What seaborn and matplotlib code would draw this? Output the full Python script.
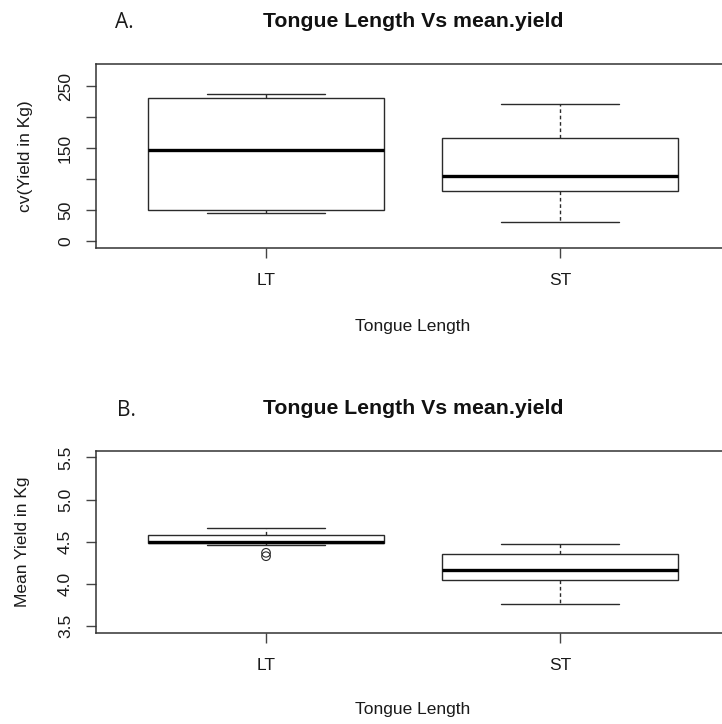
import numpy as np
import pandas as pd
import matplotlib
matplotlib.use("Agg")
import matplotlib.pyplot as plt
import seaborn as sns

# Five-number summaries per tongue-length group (whisker low, Q1, median, Q3, whisker high)
tongue_groups = ["LT", "ST"]
cv_lt = [44.8, 50.0, 147.0, 230.5, 237.0]
cv_st = [30.3, 80.8, 105.5, 166.9, 221.4]
yield_lt = [4.463, 4.487, 4.495, 4.578, 4.664]
yield_st = [3.760, 4.048, 4.167, 4.353, 4.471]
yield_lt_outliers = [4.37, 4.33]

cv_ticks = [0, 50, 100, 150, 200, 250]
cv_tick_labels = ["0", "50", "", "150", "", "250"]
yield_ticks = [3.5, 4.0, 4.5, 5.0, 5.5]
yield_tick_labels = ["3.5", "4.0", "4.5", "5.0", "5.5"]

panel_title = "Tongue Length Vs mean.yield"
x_label = "Tongue Length"
cv_label = "cv(Yield in Kg)"
yield_label = "Mean Yield in Kg"

sns.set_style("white")
plt.rcParams["font.family"] = ["Liberation Sans", "DejaVu Sans"]

LINE = "#2a2a2a"


def frame(lt, st):
    return pd.DataFrame({
        "group": np.repeat(tongue_groups, [len(lt), len(st)]),
        "value": np.concatenate([lt, st]),
    })


def draw_panel(ax, df, ylim, ticks, tick_labels, ylabel, outliers=None):
    sns.boxplot(
        data=df, x="group", y="value", order=tongue_groups, ax=ax,
        color="white", linecolor=LINE, linewidth=1.0, width=0.8,
        saturation=1, showfliers=False,
        medianprops=dict(color="black", linewidth=2.4),
        whiskerprops=dict(color=LINE, linewidth=1.0, linestyle=(0, (2.6, 2.0))),
        capprops=dict(color=LINE, linewidth=1.0),
        boxprops=dict(edgecolor=LINE, linewidth=1.0),
    )
    if outliers is not None:
        sns.stripplot(
            x=["LT"] * len(outliers), y=outliers, order=tongue_groups, ax=ax,
            jitter=False, size=6.2, color=LINE, facecolors="none",
            edgecolor=LINE, linewidth=0.8, zorder=5,
        )
    ax.set_xlim(-0.58, 1.58)
    ax.set_ylim(*ylim)
    ax.set_yticks(ticks)
    ax.set_yticklabels(tick_labels)
    ax.set_xticks(range(len(tongue_groups)))
    ax.set_xticklabels(tongue_groups)
    for s in ax.spines.values():
        s.set_visible(True)
        s.set_linewidth(1.1)
        s.set_color("#333333")
    ax.tick_params(axis="both", direction="out", length=7.2, width=1.0,
                   color="#444444", labelsize=12.5, labelcolor="#1a1a1a",
                   bottom=True, left=True, top=False, right=False)
    ax.tick_params(axis="x", pad=11)
    ax.tick_params(axis="y", pad=9, labelrotation=90)
    for lab in ax.get_yticklabels():
        lab.set_va("center")
    ax.set_xlabel(x_label, fontsize=12.5, color="#1a1a1a")
    ax.set_ylabel(ylabel, fontsize=12.5, color="#1a1a1a")
    ax.set_title(panel_title, fontsize=15.3, fontweight="bold", pad=26.5,
                 color="#111111")


fig = plt.figure(figsize=(7.22, 7.24), dpi=100)
ax_top = fig.add_axes([0.1323, 0.6575, 0.8795, 0.2541])
ax_bot = fig.add_axes([0.1323, 0.1257, 0.8795, 0.2518])

draw_panel(ax_top, frame(cv_lt, cv_st), (-11, 286), cv_ticks, cv_tick_labels, cv_label)
draw_panel(ax_bot, frame(yield_lt, yield_st), (3.42, 5.58), yield_ticks,
           yield_tick_labels, yield_label, outliers=yield_lt_outliers)

ax_top.xaxis.set_label_coords(0.5, -0.385)
ax_bot.xaxis.set_label_coords(0.5, -0.38)
ax_top.yaxis.set_label_coords(-0.099, 0.5)
ax_bot.yaxis.set_label_coords(-0.103, 0.5)

fig.text(115 / 722, 1 - 28 / 724, "A.", family=["Open Sans", "DejaVu Sans"],
         fontsize=15, va="baseline", ha="left", color="#1a1a1a")
fig.text(117 / 722, 1 - 416 / 724, "B.", family=["Open Sans", "DejaVu Sans"],
         fontsize=15, va="baseline", ha="left", color="#1a1a1a")

fig.savefig("out.png", dpi=100)
